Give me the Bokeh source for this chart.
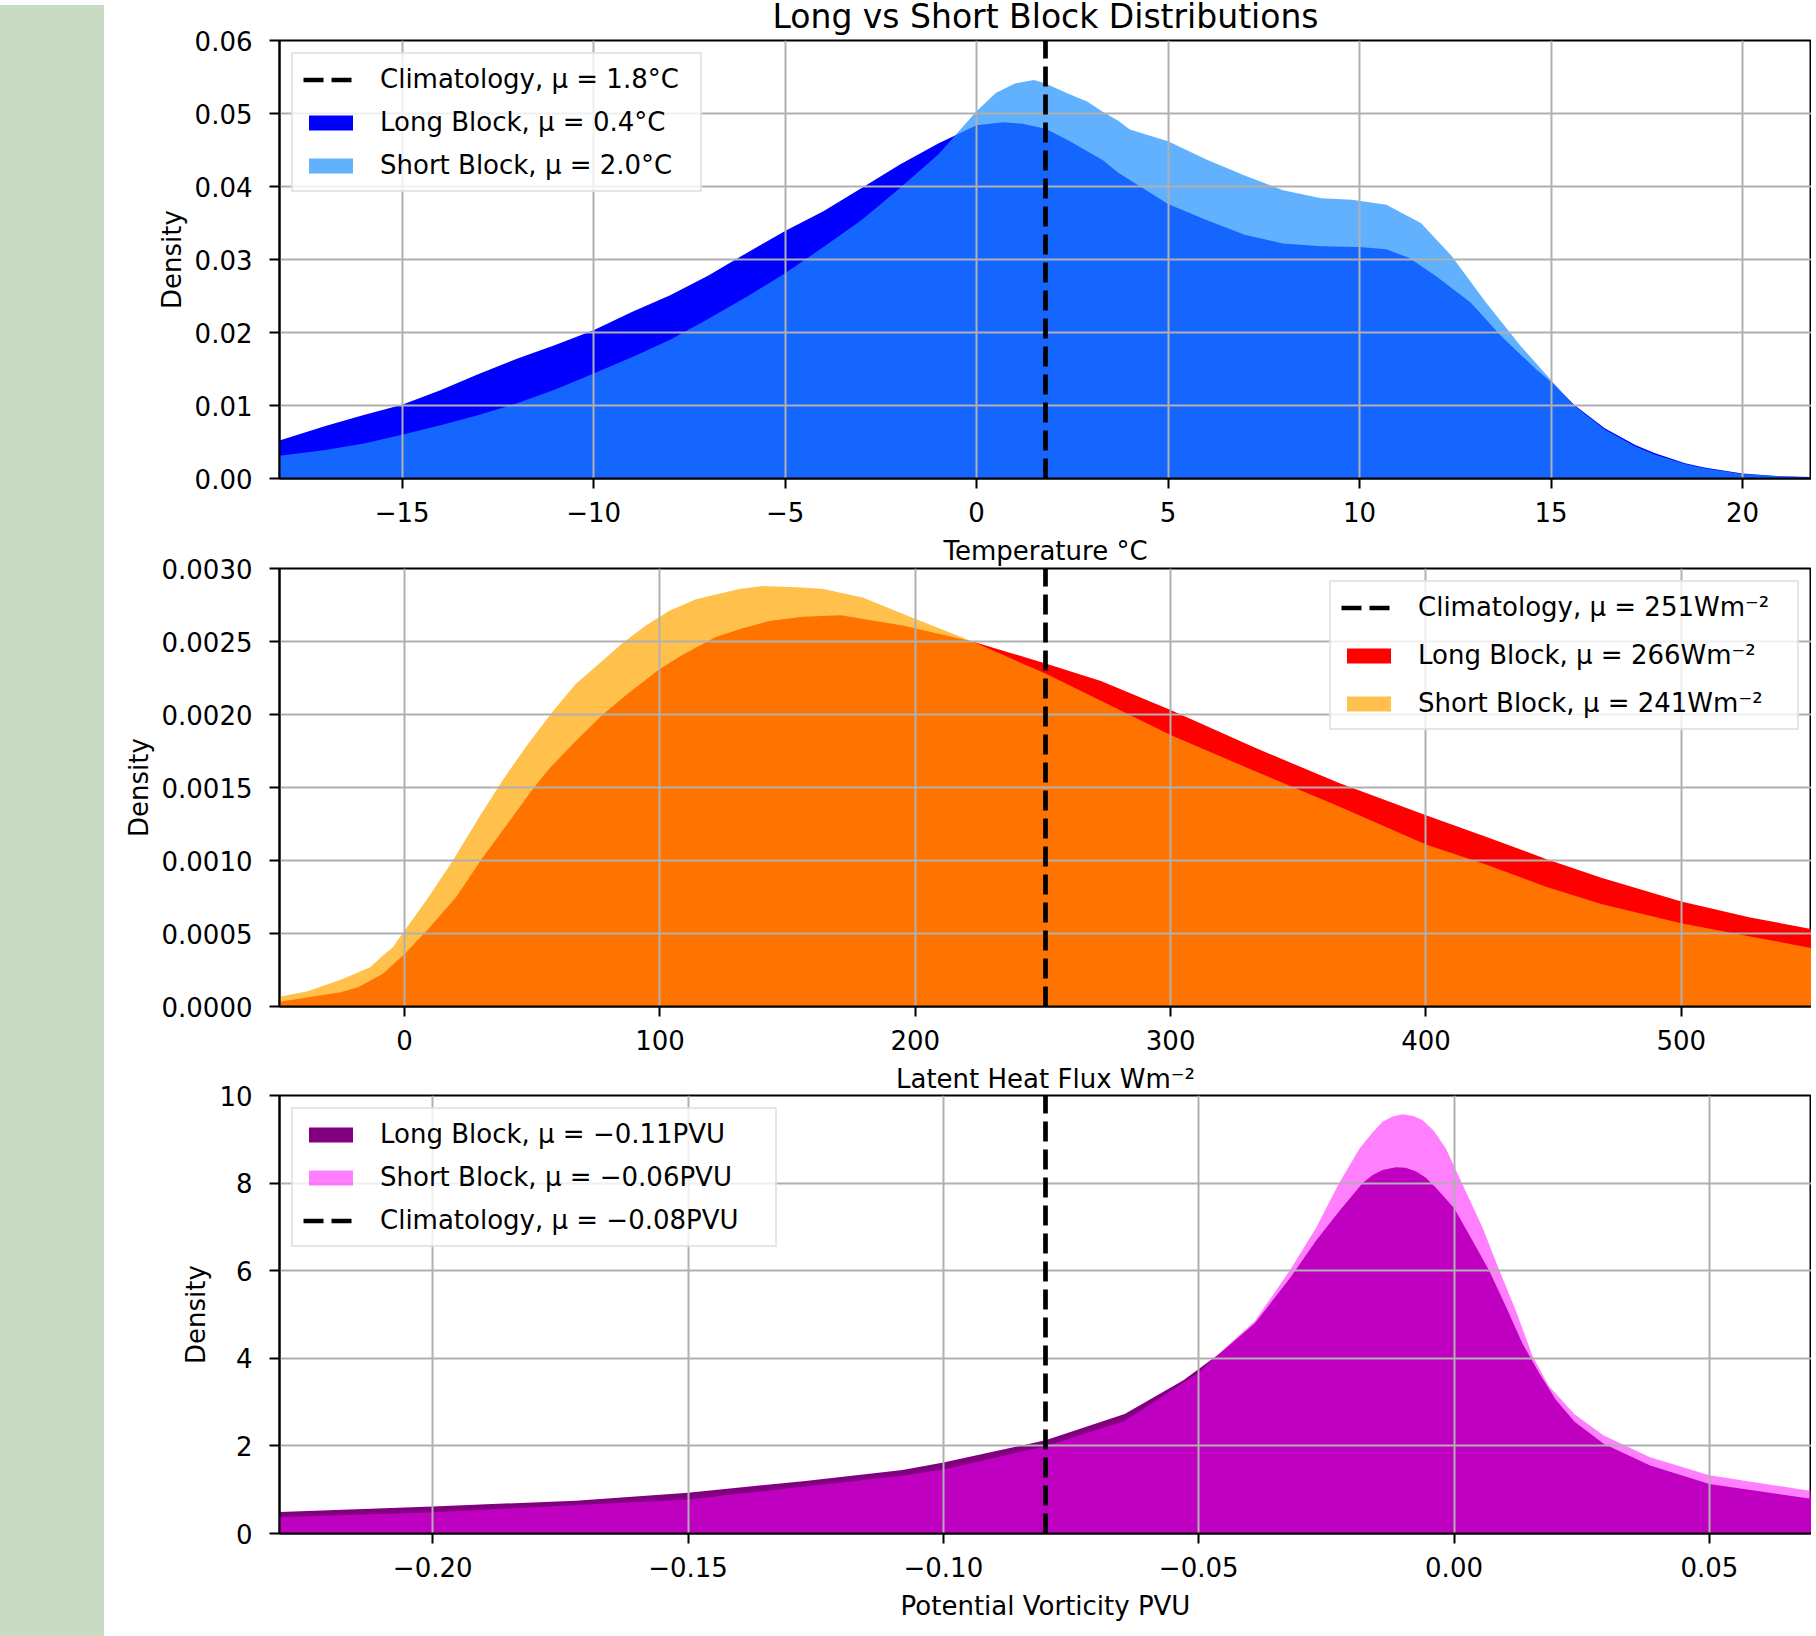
from bokeh.plotting import figure
from bokeh.models import Range1d, FixedTicker, Legend, LegendItem, Div
from bokeh.layouts import row, column
from bokeh.embed import file_html
from bokeh.resources import INLINE

# ---------------- data ----------------
# Temperature (deg C)
temp_long_x = [-18.2, -17, -16, -15, -14, -13, -12, -11, -10, -9, -8, -7, -6, -5, -4, -3, -2, -1,
               0, 0.7, 1.2, 1.8, 2.4, 3.3, 3.7, 5, 6, 7, 8, 9, 10, 10.7, 11.3, 12, 12.9, 13.7,
               14.6, 15.05, 15.6, 16.4, 17.2, 17.7, 18.5, 19, 20, 21, 21.8]
temp_long = [0.0052, 0.0072, 0.0087, 0.0101, 0.0121, 0.0143, 0.0164, 0.0183, 0.0203, 0.0228,
             0.0251, 0.0278, 0.0309, 0.0339, 0.0366, 0.0398, 0.0430, 0.0459, 0.0484, 0.0488,
             0.0486, 0.0479, 0.0463, 0.0436, 0.0419, 0.0376, 0.0354, 0.0334, 0.0322, 0.0318,
             0.0317, 0.0314, 0.0302, 0.0277, 0.0241, 0.0195, 0.0150, 0.0130, 0.0101, 0.0069,
             0.0046, 0.0035, 0.0021, 0.0015, 0.0007, 0.0003, 0.0002]
temp_short_x = [-18.2, -17, -16, -15, -14, -13, -12, -11, -10, -9, -8, -7, -6, -5, -4, -3, -2, -1,
                0, 0.5, 1.0, 1.5, 1.8, 2.4, 2.9, 3.3, 3.7, 4, 5, 6, 7, 8, 9, 9.8, 10.7, 11.6,
                12.4, 13.3, 14.2, 15.05, 15.6, 16.4, 17.2, 17.7, 18.5, 19, 20, 21, 21.8]
temp_short = [0.0031, 0.0039, 0.0048, 0.0060, 0.0073, 0.0087, 0.0103, 0.0122, 0.0144, 0.0166,
              0.0190, 0.0219, 0.0249, 0.0281, 0.0317, 0.0354, 0.0398, 0.0444, 0.0503, 0.0528,
              0.0541, 0.0546, 0.0541, 0.0527, 0.0516, 0.0502, 0.0490, 0.0478, 0.0462, 0.0437,
              0.0415, 0.0395, 0.0384, 0.0382, 0.0375, 0.0350, 0.0305, 0.0241, 0.0182, 0.0132,
              0.0100, 0.0067, 0.0044, 0.0033, 0.0020, 0.0014, 0.0006, 0.0003, 0.00015]
temp_clim = 1.8

# Latent heat flux (W m^-2)
lhf_long_x = [-49, -25, -18, -8.5, 0, 9.7, 20.2, 30.6, 41.1, 50.2, 56.7, 67.1, 77.6, 88, 99.8,
              108.9, 121.9, 132.4, 142.8, 155.9, 170.8, 195, 222.4, 251, 272.7, 300, 332, 366,
              400, 424, 447, 469, 500, 527, 551]
lhf_long = [0.000032, 0.000098, 0.000134, 0.000224, 0.00036, 0.00054, 0.00075, 0.00102, 0.00127,
            0.00149, 0.00163, 0.00182, 0.00200, 0.00215, 0.00231, 0.00241, 0.00253, 0.00259,
            0.00264, 0.00267, 0.00268, 0.00261, 0.00250, 0.00235, 0.00223, 0.00203, 0.00178,
            0.00153, 0.00131, 0.00116, 0.00101, 0.00088, 0.00072, 0.00061, 0.00053]
lhf_short_x = [-49, -38, -25, -13.5, -8.5, -4.6, 0, 8.4, 18.9, 29.3, 38.4, 47.6, 58, 67.1, 77.6,
               85.4, 94.5, 103.7, 114.1, 131.1, 140.2, 155.9, 164, 179.7, 195, 222.4, 251, 300,
               332, 366, 400, 424, 447, 469, 500, 527, 551]
lhf_short = [0.000066, 0.000105, 0.000183, 0.000269, 0.00035, 0.000406, 0.00052, 0.000725,
             0.00100, 0.00130, 0.00155, 0.00178, 0.00202, 0.00221, 0.00237, 0.00249, 0.00261,
             0.00271, 0.00279, 0.00286, 0.00288, 0.00287, 0.00286, 0.00280, 0.00269, 0.00250,
             0.00228, 0.00186, 0.00162, 0.00137, 0.00111, 0.00097, 0.00082, 0.00070, 0.00057,
             0.00048, 0.00040]
lhf_clim = 251

# Potential vorticity (PVU)
pv_long_x = [-0.23, -0.20, -0.172, -0.15, -0.127, -0.108, -0.10, -0.08, -0.0645, -0.053, -0.046,
             -0.039, -0.032, -0.027, -0.0225, -0.0179, -0.016, -0.014, -0.0114, -0.0095, -0.0075,
             -0.0055, -0.0035, 0.0, 0.0036, 0.0069, 0.0102, 0.0134, 0.0167, 0.0199, 0.0236,
             0.0293, 0.0384, 0.05, 0.07]
pv_long = [0.49, 0.615, 0.75, 0.93, 1.20, 1.45, 1.62, 2.13, 2.73, 3.5, 4.1, 4.8, 5.85, 6.69, 7.36,
           8.0, 8.18, 8.30, 8.36, 8.35, 8.27, 8.12, 7.89, 7.43, 6.69, 6.0, 5.17, 4.34, 3.66, 3.06,
           2.55, 2.05, 1.55, 1.13, 0.79]
pv_short_x = [-0.23, -0.20, -0.15, -0.108, -0.10, -0.08, -0.0645, -0.05, -0.046, -0.039, -0.0322,
              -0.027, -0.0225, -0.0185, -0.016, -0.014, -0.012, -0.0101, -0.008, -0.0062, -0.004,
              -0.0016, 0.0023, 0.0056, 0.0089, 0.0121, 0.0154, 0.0186, 0.0236, 0.0293, 0.0384,
              0.05, 0.07]
pv_short = [0.372, 0.485, 0.777, 1.32, 1.46, 1.99, 2.57, 3.67, 4.11, 4.85, 6.0, 6.98, 8.0, 8.79,
            9.15, 9.40, 9.52, 9.57, 9.53, 9.44, 9.20, 8.79, 7.81, 6.98, 6.0, 5.09, 4.04, 3.36,
            2.72, 2.24, 1.74, 1.33, 0.97]
pv_clim = -0.08

# ticks
temp_xticks = [-15, -10, -5, 0, 5, 10, 15, 20]
temp_xlabels = ["\u221215", "\u221210", "\u22125", "0", "5", "10", "15", "20"]
temp_yticks = [0.0, 0.01, 0.02, 0.03, 0.04, 0.05, 0.06]
temp_ylabels = ["0.00", "0.01", "0.02", "0.03", "0.04", "0.05", "0.06"]
lhf_xticks = [0, 100, 200, 300, 400, 500]
lhf_xlabels = ["0", "100", "200", "300", "400", "500"]
lhf_yticks = [0.0, 0.0005, 0.001, 0.0015, 0.002, 0.0025, 0.003]
lhf_ylabels = ["0.0000", "0.0005", "0.0010", "0.0015", "0.0020", "0.0025", "0.0030"]
pv_xticks = [-0.2, -0.15, -0.1, -0.05, 0.0, 0.05]
pv_xlabels = ["\u22120.20", "\u22120.15", "\u22120.10", "\u22120.05", "0.00", "0.05"]
pv_yticks = [0, 2, 4, 6, 8, 10]
pv_ylabels = ["0", "2", "4", "6", "8", "10"]

FONT = "DejaVu Sans"
FS = "26px"
STRIP_W = 107
LEFT = 170
FRAME_W = 1532
FRAME_H = 438


def make_fig(xr, yr, top, bottom, xticks, xlabels, yticks, ylabels, xlabel):
    p = figure(width=LEFT + FRAME_W, height=top + FRAME_H + bottom,
               x_range=Range1d(*xr), y_range=Range1d(*yr),
               output_backend="svg", toolbar_location=None,
               min_border_left=LEFT, min_border_right=0,
               min_border_top=top, min_border_bottom=bottom)
    p.background_fill_color = "white"
    p.border_fill_color = None
    p.outline_line_color = "black"
    p.outline_line_width = 2
    p.outline_line_alpha = 1
    for ax in (p.xaxis[0], p.yaxis[0]):
        ax.axis_line_color = "black"
        ax.axis_line_width = 2
        ax.major_tick_line_color = "black"
        ax.major_tick_line_width = 2
        ax.major_tick_out = 10
        ax.major_tick_in = 0
        ax.minor_tick_line_color = None
        ax.major_label_text_font = FONT
        ax.major_label_text_font_size = FS
        ax.major_label_text_color = "black"
        ax.axis_label_text_font = FONT
        ax.axis_label_text_font_size = FS
        ax.axis_label_text_font_style = "normal"
        ax.axis_label_text_color = "black"
    xt = FixedTicker(ticks=xticks)
    yt = FixedTicker(ticks=yticks)
    p.xaxis[0].ticker = xt
    p.yaxis[0].ticker = yt
    p.xgrid[0].ticker = xt
    p.ygrid[0].ticker = yt
    p.xaxis[0].major_label_overrides = dict(zip(xticks, xlabels))
    p.yaxis[0].major_label_overrides = dict(zip(yticks, ylabels))
    p.xaxis[0].axis_label = xlabel
    p.yaxis[0].axis_label = "Density"
    p.xaxis[0].major_label_standoff = 13
    p.xaxis[0].axis_label_standoff = 11
    p.yaxis[0].major_label_standoff = 17
    p.yaxis[0].axis_label_standoff = 5
    p.grid.grid_line_color = "#b0b0b0"
    p.grid.grid_line_width = 2
    p.grid.level = "underlay"
    return p


def add_legend(p, items, loc, label_width, spacing):
    leg = Legend(items=items, location=loc)
    leg.label_text_font = FONT
    leg.label_text_font_size = FS
    leg.label_text_color = "black"
    leg.glyph_width = 55
    leg.glyph_height = 19
    leg.label_standoff = 22
    leg.label_height = 30
    leg.label_width = label_width
    leg.spacing = spacing
    leg.padding = 10
    leg.margin = 12
    leg.border_line_color = "#cccccc"
    leg.border_line_width = 2
    leg.background_fill_color = "white"
    leg.background_fill_alpha = 0.8
    p.add_layout(leg, "center")


DASH = "20 8"
DW = 4.7

# ---- top: temperature ----
p1 = make_fig((-18.2, 21.8), (0, 0.06), 52, 104,
              temp_xticks, temp_xlabels, temp_yticks, temp_ylabels, "Temperature \u00b0C")
p1.title.text = "Long vs Short Block Distributions"
p1.title.align = "center"
p1.title.text_font = FONT
p1.title.text_font_size = "33px"
p1.title.text_font_style = "normal"
p1.title.text_color = "black"
p1.title.standoff = 10
r1l = p1.varea(x=temp_long_x, y1=0, y2=temp_long, fill_color="#0000ff", fill_alpha=1.0, level="image")
r1s = p1.varea(x=temp_short_x, y1=0, y2=temp_short, fill_color="#1e90ff", fill_alpha=0.7, level="image")
r1c = p1.line(x=[temp_clim, temp_clim], y=[0, 0.06], line_color="black", line_width=DW, line_dash=DASH)
add_legend(p1, [
    LegendItem(label="Climatology, \u03bc = 1.8\u00b0C", renderers=[r1c]),
    LegendItem(label="Long Block, \u03bc = 0.4\u00b0C", renderers=[r1l]),
    LegendItem(label="Short Block, \u03bc = 2.0\u00b0C", renderers=[r1s]),
], "top_left", 310, 13)
p1.margin = (-12, 0, 0, 0)

# ---- middle: latent heat flux ----
p2 = make_fig((-49, 551), (0, 0.003), 14, 104,
              lhf_xticks, lhf_xlabels, lhf_yticks, lhf_ylabels, "Latent Heat Flux Wm\u207b\u00b2")
r2l = p2.varea(x=lhf_long_x, y1=0, y2=lhf_long, fill_color="#ff0000", fill_alpha=1.0, level="image")
r2s = p2.varea(x=lhf_short_x, y1=0, y2=lhf_short, fill_color="#ffa500", fill_alpha=0.7, level="image")
r2c = p2.line(x=[lhf_clim, lhf_clim], y=[0, 0.003], line_color="black", line_width=DW, line_dash=DASH)
add_legend(p2, [
    LegendItem(label="Climatology, \u03bc = 251Wm\u207b\u00b2", renderers=[r2c]),
    LegendItem(label="Long Block, \u03bc = 266Wm\u207b\u00b2", renderers=[r2l]),
    LegendItem(label="Short Block, \u03bc = 241Wm\u207b\u00b2", renderers=[r2s]),
], "top_right", 369, 18)
p2.margin = (-28, 0, 0, 0)

# ---- bottom: potential vorticity ----
p3 = make_fig((-0.23, 0.07), (0, 10), 14, 103,
              pv_xticks, pv_xlabels, pv_yticks, pv_ylabels, "Potential Vorticity PVU")
r3l = p3.varea(x=pv_long_x, y1=0, y2=pv_long, fill_color="#800080", fill_alpha=1.0, level="image")
r3s = p3.varea(x=pv_short_x, y1=0, y2=pv_short, fill_color="#ff00ff", fill_alpha=0.5, level="image")
r3c = p3.line(x=[pv_clim, pv_clim], y=[0, 10], line_color="black", line_width=DW, line_dash=DASH)
add_legend(p3, [
    LegendItem(label="Long Block, \u03bc = \u22120.11PVU", renderers=[r3l]),
    LegendItem(label="Short Block, \u03bc = \u22120.06PVU", renderers=[r3s]),
    LegendItem(label="Climatology, \u03bc = \u22120.08PVU", renderers=[r3c]),
], "top_left", 385, 13)
p3.margin = (-29, 0, 0, 0)

strip = Div(text="", width=STRIP_W, height=1636, styles={"background-color": "#c9dbc2"})
layout = row(strip, column(p1, p2, p3, spacing=0), spacing=0)
layout.margin = (0, 0, -16, -8)

open("out.html", "w").write(file_html(layout, INLINE, title="Long vs Short Block Distributions"))
